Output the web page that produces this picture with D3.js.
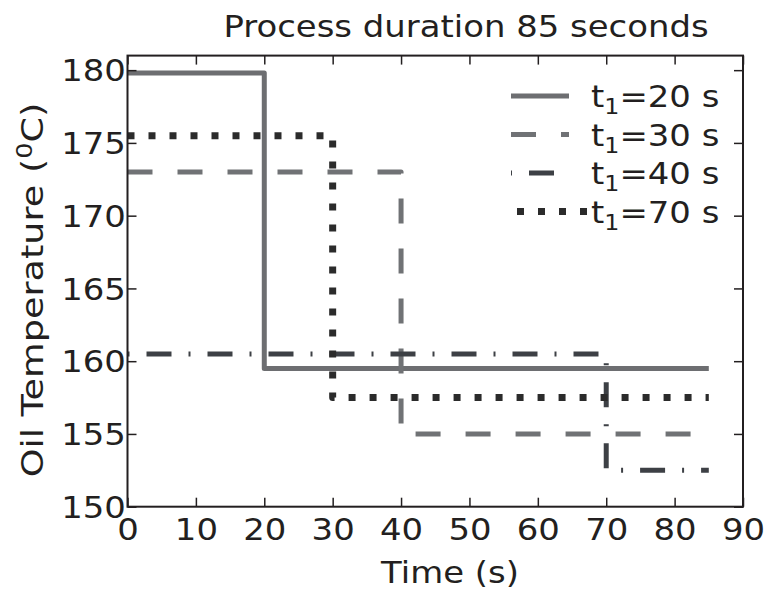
<!DOCTYPE html>
<html>
<head>
<meta charset="utf-8">
<script src="https://cdn.jsdelivr.net/npm/d3@7"></script>
<style>
  html, body { margin: 0; padding: 0; background: #fff; }
  svg { display: block; font-family: "DejaVu Sans", sans-serif; }
</style>
</head>
<body>
<svg id="chart" width="779" height="592"></svg>
<script>
// ---- data ----
const seriesNames = ["20", "30", "40", "70"];        // t1 values in legend
const highTemps   = [179.8, 173.0, 160.5, 175.5];    // temperature before step
const stepTimes   = [20, 40, 70, 30];                // time of step
const lowTemps    = [159.5, 155.0, 152.5, 157.5];    // temperature after step
const endTime     = 85;
const xTicks = [0, 10, 20, 30, 40, 50, 60, 70, 80, 90];
const yTicks = [150, 155, 160, 165, 170, 175, 180];

(function () {
// ---- styles ----
const colors = ["#6d6e71", "#707275", "#3d4045", "#2b2b2b"];
const widths = [5, 5, 5, 7];
const dashes = [null, "25 25", "2 17 25 17", "7 14"];
const legendDashOffset = [0, 0, 1, 0];
const sx = 1.13; // horizontal stretch of the glyphs

const svg = d3.select("#chart");
const pL = 127.5, pR = 743, pT = 55.6, pB = 506.7;
const x = d3.scaleLinear().domain([0, 90]).range([pL, pR]);
const y = d3.scaleLinear().domain([150, 181]).range([pB, pT]);
const ink = "#231f20";
const fs = 30;

svg.append("defs").append("clipPath").attr("id", "plotclip")
  .append("rect").attr("x", pL).attr("y", pT).attr("width", pR - pL).attr("height", pB - pT);

// lines
const line = d3.line().x(d => x(d[0])).y(d => y(d[1])).curve(d3.curveStepAfter);
seriesNames.forEach((s, i) => {
  const pts = [[0, highTemps[i]], [stepTimes[i], lowTemps[i]], [endTime, lowTemps[i]]];
  svg.append("path")
    .attr("d", line(pts))
    .attr("fill", "none")
    .attr("stroke", colors[i])
    .attr("stroke-width", widths[i])
    .attr("stroke-linejoin", "round")
    .attr("stroke-dasharray", dashes[i])
    .attr("clip-path", "url(#plotclip)");
});

// axes (ticks inward, on all sides)
const tickLen = 9;
const axB = svg.append("g").attr("transform", `translate(0,${pB})`)
  .call(d3.axisBottom(x).tickValues(xTicks).tickSize(-tickLen).tickFormat(d3.format("d")));
const axT = svg.append("g").attr("transform", `translate(0,${pT})`)
  .call(d3.axisTop(x).tickValues(xTicks).tickSize(-tickLen).tickFormat(""));
const axL = svg.append("g").attr("transform", `translate(${pL},0)`)
  .call(d3.axisLeft(y).tickValues(yTicks).tickSize(-tickLen).tickFormat(d3.format("d")));
const axR = svg.append("g").attr("transform", `translate(${pR},0)`)
  .call(d3.axisRight(y).tickValues(yTicks).tickSize(-tickLen).tickFormat(""));
[axB, axT, axL, axR].forEach(g => {
  g.select(".domain").remove();
  g.selectAll(".tick line").attr("stroke", ink).attr("stroke-width", 1.5);
  g.selectAll(".tick text").attr("fill", ink).attr("font-size", fs).attr("font-family", "DejaVu Sans");
});
axB.selectAll(".tick text").attr("y", 11).attr("dy", "0.76em").attr("transform", `scale(${sx},1)`);
axL.selectAll(".tick text").attr("x", -1.5).attr("dy", "0.36em").attr("transform", `scale(${sx},1)`);

// frame
svg.append("rect").attr("x", pL).attr("y", pT).attr("width", pR - pL).attr("height", pB - pT)
  .attr("fill", "none").attr("stroke", ink).attr("stroke-width", 2);

// helper for stretched text
function label(tx, ty, extra, k) {
  return svg.append("g").attr("transform", `translate(${tx},${ty}) ${extra || ""} scale(${k || sx},1)`)
    .append("text").attr("font-size", fs).attr("fill", ink);
}

// title
label(466, 37).attr("text-anchor", "middle").text("Process duration 85 seconds");

// x label
label(450, 583).attr("text-anchor", "middle").text("Time (s)");

// y label
const yl = label(43, 290, "rotate(-90)", 1.22).attr("text-anchor", "middle");
yl.append("tspan").text("Oil Temperature (");
yl.append("tspan").attr("font-size", 21).attr("dy", -11).text("0");
yl.append("tspan").attr("dy", 11).text("C)");

// legend
const legY0 = 96, legDy = 38.5;
seriesNames.forEach((s, i) => {
  const ly = legY0 + i * legDy;
  const x1 = i === 3 ? 517 : 511, x2 = i === 3 ? 590 : 569;
  svg.append("line").attr("x1", x1).attr("x2", x2).attr("y1", ly).attr("y2", ly)
    .attr("stroke", colors[i]).attr("stroke-width", widths[i])
    .attr("stroke-dasharray", dashes[i]).attr("stroke-dashoffset", legendDashOffset[i]);
  const t = label(591, ly + 11);
  t.append("tspan").text("t");
  t.append("tspan").attr("font-size", 21).attr("dy", 7).text("1");
  t.append("tspan").attr("dy", -7).text("=" + s + " s");
});
})();
</script>
</body>
</html>
